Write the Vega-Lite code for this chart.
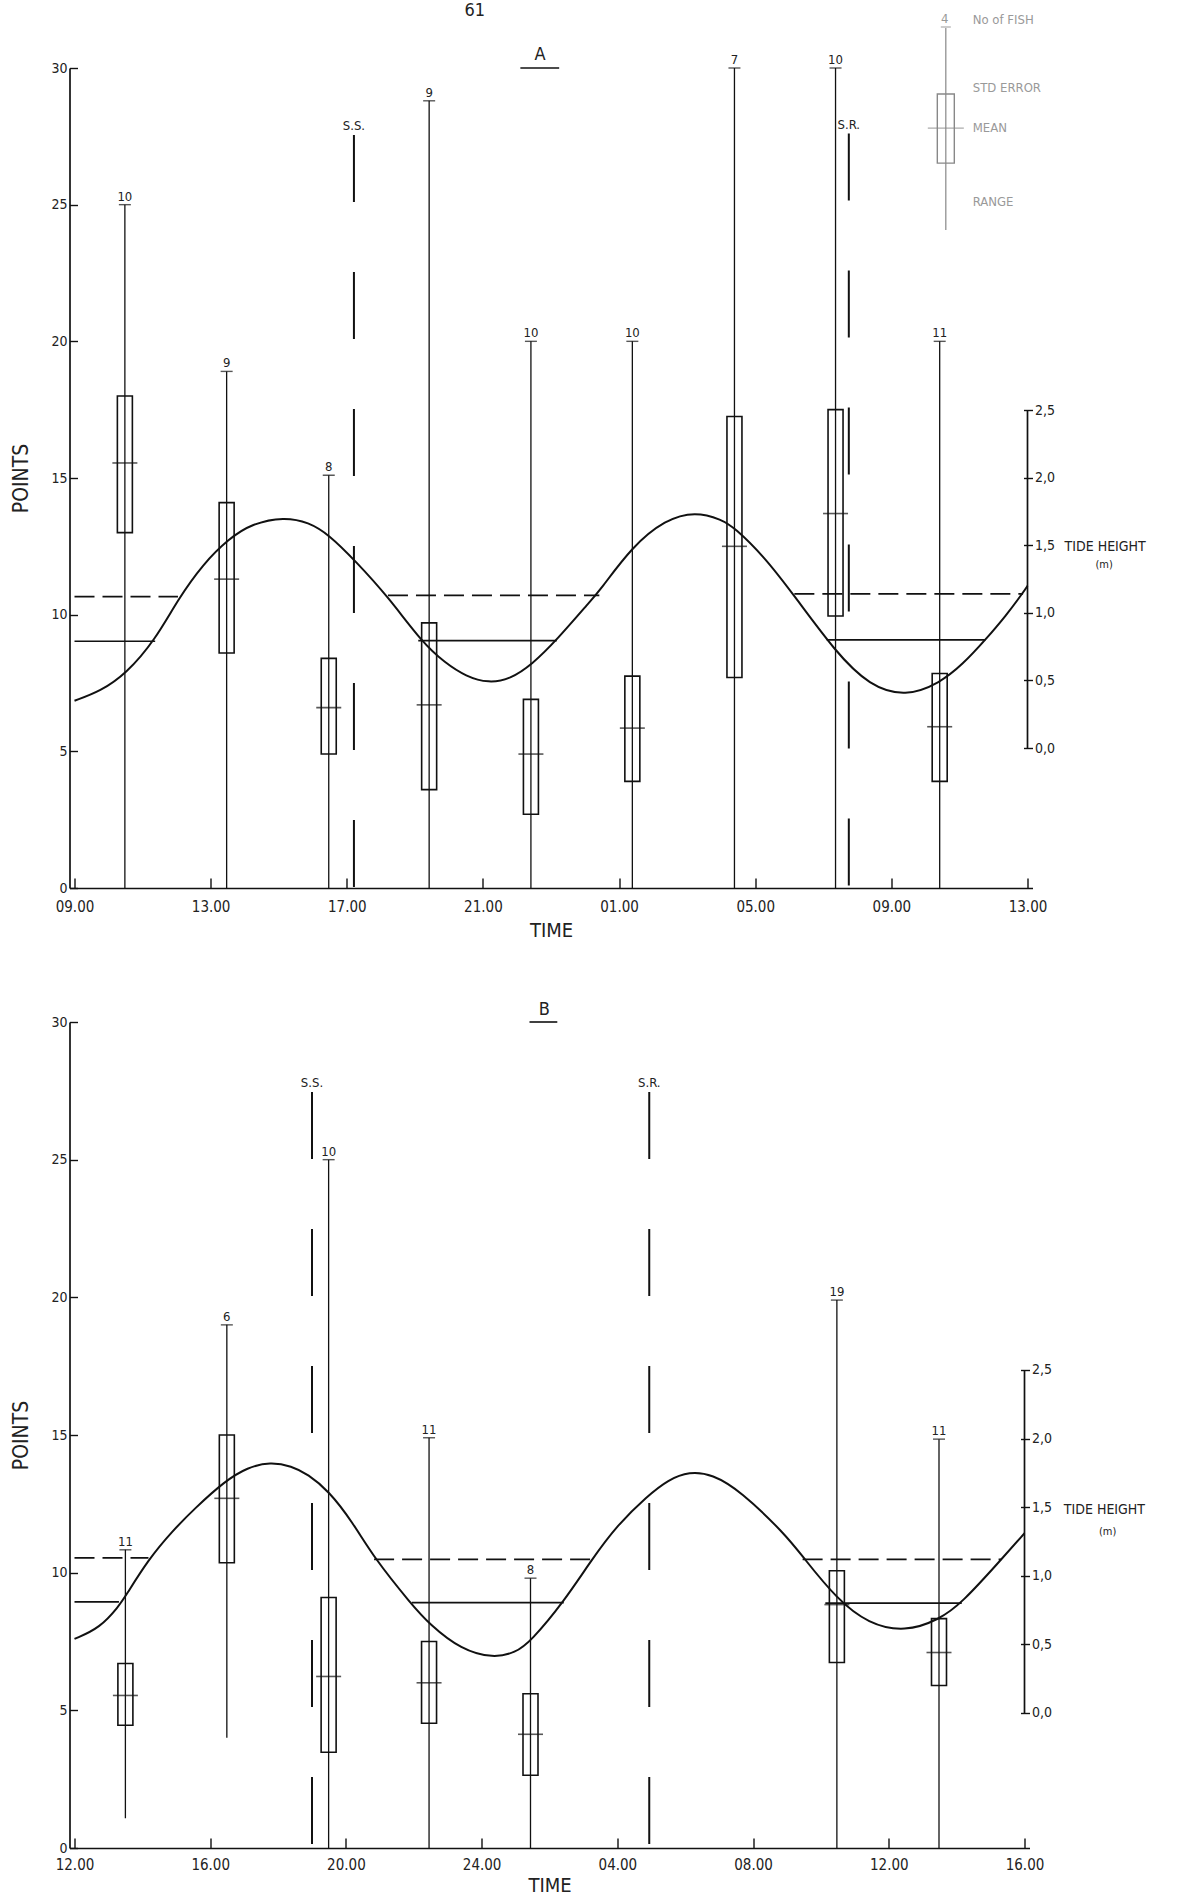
{
  "$schema": "https://vega.github.io/schema/vega-lite/v6.json",
  "autosize": {"type": "none"},
  "padding": {"left": 69.5, "top": 68, "right": 1120, "bottom": 1828},
  "background": "white",
  "bounds": "flush",
  "spacing": 134,
  "datasets": {
    "boxesA": [
      {"t": 10.48, "min": 0, "max": 25.0, "lo": 13.0, "hi": 18.0, "mean": 15.55, "n": 10},
      {"t": 13.47, "min": 0, "max": 18.9, "lo": 8.6, "hi": 14.1, "mean": 11.3, "n": 9},
      {"t": 16.47, "min": 0, "max": 15.1, "lo": 4.9, "hi": 8.4, "mean": 6.6, "n": 8},
      {"t": 19.42, "min": 0, "max": 28.8, "lo": 3.6, "hi": 9.7, "mean": 6.7, "n": 9},
      {"t": 22.41, "min": 0, "max": 20.0, "lo": 2.7, "hi": 6.9, "mean": 4.9, "n": 10},
      {"t": 25.39, "min": 0, "max": 20.0, "lo": 3.9, "hi": 7.75, "mean": 5.85, "n": 10},
      {"t": 28.39, "min": 0, "max": 30.0, "lo": 7.7, "hi": 17.25, "mean": 12.5, "n": 7},
      {"t": 31.36, "min": 0, "max": 30.0, "lo": 9.95, "hi": 17.5, "mean": 13.7, "n": 10},
      {"t": 34.42, "min": 0, "max": 20.0, "lo": 3.9, "hi": 7.85, "mean": 5.9, "n": 11}
    ],
    "boxesB": [
      {"t": 13.5, "min": 1.08, "max": 10.83, "lo": 4.46, "hi": 6.7, "mean": 5.54, "n": 11},
      {"t": 16.49, "min": 4.0, "max": 19.0, "lo": 10.36, "hi": 15.0, "mean": 12.7, "n": 6},
      {"t": 19.49, "min": 0, "max": 25.0, "lo": 3.48, "hi": 9.1, "mean": 6.23, "n": 10},
      {"t": 22.45, "min": 0, "max": 14.9, "lo": 4.53, "hi": 7.5, "mean": 6.0, "n": 11},
      {"t": 25.44, "min": 0, "max": 9.8, "lo": 2.64, "hi": 5.6, "mean": 4.13, "n": 8},
      {"t": 34.47, "min": 0, "max": 19.9, "lo": 6.74, "hi": 10.07, "mean": 8.84, "n": 19},
      {"t": 37.48, "min": 0, "max": 14.85, "lo": 5.9, "hi": 8.33, "mean": 7.1, "n": 11}
    ],
    "sunA": [
      {"t": 17.21, "top": 27.55, "label": "S.S."},
      {"t": 31.75, "top": 27.6, "label": "S.R."}
    ],
    "sunB": [
      {"t": 19.0, "top": 27.46, "label": "S.S."},
      {"t": 28.94, "top": 27.46, "label": "S.R."}
    ],
    "tideA": [
      {"t": 9.0, "h": 0.35}, {"t": 9.76, "h": 0.42}, {"t": 10.52, "h": 0.55},
      {"t": 11.37, "h": 0.8}, {"t": 12.04, "h": 1.1}, {"t": 12.77, "h": 1.36},
      {"t": 13.54, "h": 1.55}, {"t": 14.21, "h": 1.66}, {"t": 15.16, "h": 1.71},
      {"t": 15.88, "h": 1.67}, {"t": 16.47, "h": 1.58}, {"t": 17.27, "h": 1.38},
      {"t": 18.21, "h": 1.12}, {"t": 19.22, "h": 0.78}, {"t": 19.89, "h": 0.63},
      {"t": 20.5, "h": 0.53}, {"t": 21.17, "h": 0.48}, {"t": 21.8, "h": 0.51},
      {"t": 22.45, "h": 0.62}, {"t": 23.17, "h": 0.8}, {"t": 24.13, "h": 1.08},
      {"t": 24.42, "h": 1.16}, {"t": 25.38, "h": 1.49}, {"t": 26.36, "h": 1.69},
      {"t": 27.24, "h": 1.75}, {"t": 28.02, "h": 1.69}, {"t": 28.39, "h": 1.63},
      {"t": 29.25, "h": 1.42}, {"t": 30.14, "h": 1.13}, {"t": 31.36, "h": 0.71},
      {"t": 32.36, "h": 0.46}, {"t": 33.42, "h": 0.38}, {"t": 34.42, "h": 0.48},
      {"t": 35.1, "h": 0.62}, {"t": 35.76, "h": 0.8}, {"t": 36.37, "h": 0.98},
      {"t": 36.87, "h": 1.15}, {"t": 37.0, "h": 1.2}
    ],
    "tideB": [
      {"t": 12.0, "h": 0.54}, {"t": 12.75, "h": 0.62}, {"t": 13.31, "h": 0.78},
      {"t": 13.5, "h": 0.85}, {"t": 14.18, "h": 1.12}, {"t": 14.9, "h": 1.33},
      {"t": 15.54, "h": 1.49}, {"t": 16.43, "h": 1.69}, {"t": 17.1, "h": 1.79},
      {"t": 17.77, "h": 1.83}, {"t": 18.4, "h": 1.8}, {"t": 18.88, "h": 1.74},
      {"t": 19.49, "h": 1.62}, {"t": 20.2, "h": 1.39}, {"t": 20.83, "h": 1.13},
      {"t": 21.94, "h": 0.79}, {"t": 22.45, "h": 0.65}, {"t": 23.4, "h": 0.46},
      {"t": 24.35, "h": 0.4}, {"t": 25.0, "h": 0.44}, {"t": 25.44, "h": 0.52},
      {"t": 26.42, "h": 0.81}, {"t": 27.25, "h": 1.12}, {"t": 28.0, "h": 1.37},
      {"t": 28.88, "h": 1.58}, {"t": 29.5, "h": 1.7}, {"t": 30.12, "h": 1.76},
      {"t": 30.8, "h": 1.74}, {"t": 31.62, "h": 1.62}, {"t": 32.96, "h": 1.3},
      {"t": 33.46, "h": 1.14}, {"t": 34.47, "h": 0.83}, {"t": 35.4, "h": 0.65},
      {"t": 36.48, "h": 0.59}, {"t": 37.48, "h": 0.68}, {"t": 38.15, "h": 0.8},
      {"t": 39.32, "h": 1.12}, {"t": 40.0, "h": 1.31}
    ],
    "levelsA": [
      {"t": 9.0, "t2": 12.04, "h": 1.12, "style": "dashed"},
      {"t": 18.21, "t2": 24.42, "h": 1.13, "style": "dashed"},
      {"t": 30.15, "t2": 36.87, "h": 1.14, "style": "dashed"},
      {"t": 9.0, "t2": 11.37, "h": 0.79, "style": "solid"},
      {"t": 19.1, "t2": 23.17, "h": 0.795, "style": "solid"},
      {"t": 31.1, "t2": 35.76, "h": 0.80, "style": "solid"}
    ],
    "levelsB": [
      {"t": 12.0, "t2": 14.18, "h": 1.13, "style": "dashed"},
      {"t": 20.83, "t2": 27.31, "h": 1.12, "style": "dashed"},
      {"t": 33.46, "t2": 39.32, "h": 1.12, "style": "dashed"},
      {"t": 12.0, "t2": 13.31, "h": 0.81, "style": "solid"},
      {"t": 21.94, "t2": 26.42, "h": 0.805, "style": "solid"},
      {"t": 34.13, "t2": 38.15, "h": 0.80, "style": "solid"}
    ]
  },
  "config": {
    "view": {"stroke": null},
    "font": "DejaVu Sans Condensed",
    "axis": {
      "grid": false, "domainColor": "#111", "domainWidth": 1.7, "tickColor": "#111", "tickWidth": 1.4,
      "labelColor": "#222", "titleColor": "#222", "labelFont": "DejaVu Sans Condensed", "titleFont": "DejaVu Sans Condensed",
      "titleFontWeight": "normal", "labelFlush": false, "labelOverlap": false, "labelBound": false
    },
    "text": {"font": "DejaVu Sans Condensed", "color": "#222"}
  },
  "vconcat": [
    {
      "width": 963,
      "height": 820,
      "resolve": {"scale": {"y": "independent"}},
      "layer": [
        {
          "layer": [
            {
              "data": {"name": "boxesA"},
              "mark": {"type": "rule", "strokeWidth": 1.3, "color": "#111"},
              "encoding": {
                "x": {"field": "t", "type": "quantitative", "scale": {"domain": [9, 37], "nice": false, "zero": false},
                  "axis": {"values": [9, 13, 17, 21, 25, 29, 33, 37], "labelExpr": "(datum.value > 24 ? ((datum.value - 24) < 10 ? '0' : '') + (datum.value - 24) : (datum.value < 10 ? '0' : '') + datum.value) + '.00'",
                    "title": "TIME", "tickSize": -10, "labelPadding": 21, "labelFontSize": 15, "titleFontSize": 20, "titlePadding": 6}},
                "y": {"field": "min", "type": "quantitative", "scale": {"domain": [0, 30], "nice": false, "zero": false},
                  "axis": {"values": [0, 5, 10, 15, 20, 25, 30], "title": "POINTS", "tickSize": -8, "labelPadding": 10.5, "labelFontSize": 14,
                    "titleFontSize": 21, "titleX": -48, "titleY": 410, "titleAngle": -90, "titleBaseline": "middle", "titleAlign": "center"}},
                "y2": {"field": "max"}
              }
            },
            {
              "data": {"name": "boxesA"},
              "mark": {"type": "bar", "width": 15, "fill": "transparent", "stroke": "#111", "strokeWidth": 1.6},
              "encoding": {
                "x": {"field": "t", "type": "quantitative", "scale": {"domain": [9, 37], "nice": false, "zero": false}},
                "y": {"field": "lo", "type": "quantitative", "scale": {"domain": [0, 30], "nice": false, "zero": false}},
                "y2": {"field": "hi"}
              }
            },
            {
              "data": {"name": "boxesA"},
              "mark": {"type": "tick", "orient": "horizontal", "size": 25, "thickness": 1.6, "color": "#111"},
              "encoding": {
                "x": {"field": "t", "type": "quantitative", "scale": {"domain": [9, 37], "nice": false, "zero": false}},
                "y": {"field": "mean", "type": "quantitative", "scale": {"domain": [0, 30], "nice": false, "zero": false}}
              }
            },
            {
              "data": {"name": "boxesA"},
              "mark": {"type": "tick", "orient": "horizontal", "size": 12, "thickness": 1.4, "color": "#111"},
              "encoding": {
                "x": {"field": "t", "type": "quantitative", "scale": {"domain": [9, 37], "nice": false, "zero": false}},
                "y": {"field": "max", "type": "quantitative", "scale": {"domain": [0, 30], "nice": false, "zero": false}}
              }
            },
            {
              "data": {"name": "boxesA"},
              "mark": {"type": "text", "baseline": "bottom", "dy": -1, "fontSize": 13},
              "encoding": {
                "x": {"field": "t", "type": "quantitative", "scale": {"domain": [9, 37], "nice": false, "zero": false}},
                "y": {"field": "max", "type": "quantitative", "scale": {"domain": [0, 30], "nice": false, "zero": false}},
                "text": {"field": "n"}
              }
            },
            {
              "data": {"name": "sunA"},
              "mark": {"type": "rule", "strokeWidth": 2, "color": "#111", "strokeDash": [67, 70]},
              "encoding": {
                "x": {"field": "t", "type": "quantitative", "scale": {"domain": [9, 37], "nice": false, "zero": false}},
                "y": {"field": "top", "type": "quantitative", "scale": {"domain": [0, 30], "nice": false, "zero": false}},
                "y2": {"datum": 0}
              }
            },
            {
              "data": {"name": "sunA"},
              "mark": {"type": "text", "baseline": "bottom", "dy": -2, "fontSize": 13},
              "encoding": {
                "x": {"field": "t", "type": "quantitative", "scale": {"domain": [9, 37], "nice": false, "zero": false}},
                "y": {"field": "top", "type": "quantitative", "scale": {"domain": [0, 30], "nice": false, "zero": false}},
                "text": {"field": "label"}
              }
            },
            {
              "data": {"values": [{"t": 22.68, "p": 30.48, "label": "A"}, {"t": 20.76, "p": 32.1, "label": "61"}]},
              "mark": {"type": "text", "baseline": "middle", "fontSize": 18},
              "encoding": {
                "x": {"field": "t", "type": "quantitative", "scale": {"domain": [9, 37], "nice": false, "zero": false}},
                "y": {"field": "p", "type": "quantitative", "scale": {"domain": [0, 30], "nice": false, "zero": false}},
                "text": {"field": "label"}
              }
            },
            {
              "data": {"values": [{"t": 22.1, "t2": 23.24, "p": 30}]},
              "mark": {"type": "rule", "strokeWidth": 1.6, "color": "#111"},
              "encoding": {
                "x": {"field": "t", "type": "quantitative", "scale": {"domain": [9, 37], "nice": false, "zero": false}},
                "x2": {"field": "t2"},
                "y": {"field": "p", "type": "quantitative", "scale": {"domain": [0, 30], "nice": false, "zero": false}}
              }
            },
            {
              "data": {"values": [{"t": 34.6, "top": 31.46, "bottom": 24.07}]},
              "mark": {"type": "rule", "strokeWidth": 1.2, "color": "#888"},
              "encoding": {
                "x": {"field": "t", "type": "quantitative", "scale": {"domain": [9, 37], "nice": false, "zero": false}},
                "y": {"field": "top", "type": "quantitative", "scale": {"domain": [0, 30], "nice": false, "zero": false}},
                "y2": {"field": "bottom"}
              }
            },
            {
              "data": {"values": [{"t": 34.6, "lo": 26.52, "hi": 29.05}]},
              "mark": {"type": "bar", "width": 17, "fill": "transparent", "stroke": "#888", "strokeWidth": 1.4},
              "encoding": {
                "x": {"field": "t", "type": "quantitative", "scale": {"domain": [9, 37], "nice": false, "zero": false}},
                "y": {"field": "lo", "type": "quantitative", "scale": {"domain": [0, 30], "nice": false, "zero": false}},
                "y2": {"field": "hi"}
              }
            },
            {
              "data": {"values": [{"t": 34.6, "p": 27.8}]},
              "mark": {"type": "tick", "orient": "horizontal", "size": 36, "thickness": 1.3, "color": "#888"},
              "encoding": {
                "x": {"field": "t", "type": "quantitative", "scale": {"domain": [9, 37], "nice": false, "zero": false}},
                "y": {"field": "p", "type": "quantitative", "scale": {"domain": [0, 30], "nice": false, "zero": false}}
              }
            },
            {
              "data": {"values": [{"t": 34.6, "p": 31.5}]},
              "mark": {"type": "tick", "orient": "horizontal", "size": 10, "thickness": 1.2, "color": "#888"},
              "encoding": {
                "x": {"field": "t", "type": "quantitative", "scale": {"domain": [9, 37], "nice": false, "zero": false}},
                "y": {"field": "p", "type": "quantitative", "scale": {"domain": [0, 30], "nice": false, "zero": false}}
              }
            },
            {
              "data": {"values": [{"t": 34.57, "p": 31.5, "label": "4"}]},
              "mark": {"type": "text", "baseline": "bottom", "dy": -1, "fontSize": 13, "color": "#999"},
              "encoding": {
                "x": {"field": "t", "type": "quantitative", "scale": {"domain": [9, 37], "nice": false, "zero": false}},
                "y": {"field": "p", "type": "quantitative", "scale": {"domain": [0, 30], "nice": false, "zero": false}},
                "text": {"field": "label"}
              }
            },
            {
              "data": {"values": [
                {"t": 35.39, "p": 31.76, "label": "No of FISH"},
                {"t": 35.39, "p": 29.27, "label": "STD ERROR"},
                {"t": 35.39, "p": 27.8, "label": "MEAN"},
                {"t": 35.39, "p": 25.1, "label": "RANGE"}
              ]},
              "mark": {"type": "text", "align": "left", "baseline": "middle", "fontSize": 13, "color": "#999"},
              "encoding": {
                "x": {"field": "t", "type": "quantitative", "scale": {"domain": [9, 37], "nice": false, "zero": false}},
                "y": {"field": "p", "type": "quantitative", "scale": {"domain": [0, 30], "nice": false, "zero": false}},
                "text": {"field": "label"}
              }
            }
          ]
        },
        {
          "layer": [
            {
              "data": {"name": "tideA"},
              "mark": {"type": "line", "interpolate": "basis", "strokeWidth": 2, "color": "#111"},
              "encoding": {
                "x": {"field": "t", "type": "quantitative", "scale": {"domain": [9, 37], "nice": false, "zero": false}},
                "y": {"field": "h", "type": "quantitative", "scale": {"domain": [-1.035, 5.03], "nice": false, "zero": false},
                  "axis": {"orient": "right", "values": [0, 0.5, 1, 1.5, 2, 2.5], "labelExpr": "replace(format(datum.value, '.1f'), '.', ',')",
                    "domain": false, "tickSize": -9, "labelPadding": 11, "labelFontSize": 14, "title": null}}
              }
            },
            {
              "data": {"name": "levelsA"},
              "mark": {"type": "rule", "strokeWidth": 1.7, "color": "#111"},
              "encoding": {
                "x": {"field": "t", "type": "quantitative", "scale": {"domain": [9, 37], "nice": false, "zero": false}},
                "x2": {"field": "t2"},
                "y": {"field": "h", "type": "quantitative", "scale": {"domain": [-1.035, 5.03], "nice": false, "zero": false}},
                "strokeDash": {"field": "style", "type": "nominal", "scale": {"domain": ["dashed", "solid"], "range": [[20, 8], [1, 0]]}, "legend": null}
              }
            },
            {
              "data": {"values": [{"t": 37, "h": 0, "h2": 2.5}]},
              "mark": {"type": "rule", "strokeWidth": 1.7, "color": "#111"},
              "encoding": {
                "x": {"field": "t", "type": "quantitative", "scale": {"domain": [9, 37], "nice": false, "zero": false}},
                "y": {"field": "h", "type": "quantitative", "scale": {"domain": [-1.035, 5.03], "nice": false, "zero": false}},
                "y2": {"field": "h2"}
              }
            },
            {
              "data": {"values": [{"t": 38.09, "h": 1.487, "label": "TIDE  HEIGHT"}]},
              "mark": {"type": "text", "align": "left", "baseline": "middle", "fontSize": 14},
              "encoding": {
                "x": {"field": "t", "type": "quantitative", "scale": {"domain": [9, 37], "nice": false, "zero": false}},
                "y": {"field": "h", "type": "quantitative", "scale": {"domain": [-1.035, 5.03], "nice": false, "zero": false}},
                "text": {"field": "label"}
              }
            },
            {
              "data": {"values": [{"t": 39.25, "h": 1.354, "label": "(m)"}]},
              "mark": {"type": "text", "align": "center", "baseline": "middle", "fontSize": 11},
              "encoding": {
                "x": {"field": "t", "type": "quantitative", "scale": {"domain": [9, 37], "nice": false, "zero": false}},
                "y": {"field": "h", "type": "quantitative", "scale": {"domain": [-1.035, 5.03], "nice": false, "zero": false}},
                "text": {"field": "label"}
              }
            }
          ]
        }
      ]
    },
    {
      "width": 960,
      "height": 826,
      "resolve": {"scale": {"y": "independent"}},
      "layer": [
        {
          "layer": [
            {
              "data": {"name": "boxesB"},
              "mark": {"type": "rule", "strokeWidth": 1.3, "color": "#111"},
              "encoding": {
                "x": {"field": "t", "type": "quantitative", "scale": {"domain": [12, 40], "nice": false, "zero": false},
                  "axis": {"values": [12, 16, 20, 24, 28, 32, 36, 40], "labelExpr": "(datum.value > 24 ? ((datum.value - 24) < 10 ? '0' : '') + (datum.value - 24) : (datum.value < 10 ? '0' : '') + datum.value) + '.00'",
                    "title": "TIME", "tickSize": -10, "labelPadding": 19, "labelFontSize": 15, "titleFontSize": 20, "titlePadding": 3}},
                "y": {"field": "min", "type": "quantitative", "scale": {"domain": [0, 30], "nice": false, "zero": false},
                  "axis": {"values": [0, 5, 10, 15, 20, 25, 30], "title": "POINTS", "tickSize": -8, "labelPadding": 10.5, "labelFontSize": 14,
                    "titleFontSize": 21, "titleX": -48, "titleY": 413, "titleAngle": -90, "titleBaseline": "middle", "titleAlign": "center"}},
                "y2": {"field": "max"}
              }
            },
            {
              "data": {"name": "boxesB"},
              "mark": {"type": "bar", "width": 15, "fill": "transparent", "stroke": "#111", "strokeWidth": 1.6},
              "encoding": {
                "x": {"field": "t", "type": "quantitative", "scale": {"domain": [12, 40], "nice": false, "zero": false}},
                "y": {"field": "lo", "type": "quantitative", "scale": {"domain": [0, 30], "nice": false, "zero": false}},
                "y2": {"field": "hi"}
              }
            },
            {
              "data": {"name": "boxesB"},
              "mark": {"type": "tick", "orient": "horizontal", "size": 25, "thickness": 1.6, "color": "#111"},
              "encoding": {
                "x": {"field": "t", "type": "quantitative", "scale": {"domain": [12, 40], "nice": false, "zero": false}},
                "y": {"field": "mean", "type": "quantitative", "scale": {"domain": [0, 30], "nice": false, "zero": false}}
              }
            },
            {
              "data": {"name": "boxesB"},
              "mark": {"type": "tick", "orient": "horizontal", "size": 12, "thickness": 1.4, "color": "#111"},
              "encoding": {
                "x": {"field": "t", "type": "quantitative", "scale": {"domain": [12, 40], "nice": false, "zero": false}},
                "y": {"field": "max", "type": "quantitative", "scale": {"domain": [0, 30], "nice": false, "zero": false}}
              }
            },
            {
              "data": {"name": "boxesB"},
              "mark": {"type": "text", "baseline": "bottom", "dy": -1, "fontSize": 13},
              "encoding": {
                "x": {"field": "t", "type": "quantitative", "scale": {"domain": [12, 40], "nice": false, "zero": false}},
                "y": {"field": "max", "type": "quantitative", "scale": {"domain": [0, 30], "nice": false, "zero": false}},
                "text": {"field": "n"}
              }
            },
            {
              "data": {"name": "sunB"},
              "mark": {"type": "rule", "strokeWidth": 2, "color": "#111", "strokeDash": [67, 70]},
              "encoding": {
                "x": {"field": "t", "type": "quantitative", "scale": {"domain": [12, 40], "nice": false, "zero": false}},
                "y": {"field": "top", "type": "quantitative", "scale": {"domain": [0, 30], "nice": false, "zero": false}},
                "y2": {"datum": 0}
              }
            },
            {
              "data": {"name": "sunB"},
              "mark": {"type": "text", "baseline": "bottom", "dy": -2, "fontSize": 13},
              "encoding": {
                "x": {"field": "t", "type": "quantitative", "scale": {"domain": [12, 40], "nice": false, "zero": false}},
                "y": {"field": "top", "type": "quantitative", "scale": {"domain": [0, 30], "nice": false, "zero": false}},
                "text": {"field": "label"}
              }
            },
            {
              "data": {"values": [{"t": 25.85, "p": 30.44, "label": "B"}]},
              "mark": {"type": "text", "baseline": "middle", "fontSize": 18},
              "encoding": {
                "x": {"field": "t", "type": "quantitative", "scale": {"domain": [12, 40], "nice": false, "zero": false}},
                "y": {"field": "p", "type": "quantitative", "scale": {"domain": [0, 30], "nice": false, "zero": false}},
                "text": {"field": "label"}
              }
            },
            {
              "data": {"values": [{"t": 25.41, "t2": 26.23, "p": 30}]},
              "mark": {"type": "rule", "strokeWidth": 1.6, "color": "#111"},
              "encoding": {
                "x": {"field": "t", "type": "quantitative", "scale": {"domain": [12, 40], "nice": false, "zero": false}},
                "x2": {"field": "t2"},
                "y": {"field": "p", "type": "quantitative", "scale": {"domain": [0, 30], "nice": false, "zero": false}}
              }
            }
          ]
        },
        {
          "layer": [
            {
              "data": {"name": "tideB"},
              "mark": {"type": "line", "interpolate": "basis", "strokeWidth": 2, "color": "#111"},
              "encoding": {
                "x": {"field": "t", "type": "quantitative", "scale": {"domain": [12, 40], "nice": false, "zero": false}},
                "y": {"field": "h", "type": "quantitative", "scale": {"domain": [-0.984, 5.036], "nice": false, "zero": false},
                  "axis": {"orient": "right", "values": [0, 0.5, 1, 1.5, 2, 2.5], "labelExpr": "replace(format(datum.value, '.1f'), '.', ',')",
                    "domain": false, "tickSize": -9, "labelPadding": 11, "labelFontSize": 14, "title": null}}
              }
            },
            {
              "data": {"name": "levelsB"},
              "mark": {"type": "rule", "strokeWidth": 1.7, "color": "#111"},
              "encoding": {
                "x": {"field": "t", "type": "quantitative", "scale": {"domain": [12, 40], "nice": false, "zero": false}},
                "x2": {"field": "t2"},
                "y": {"field": "h", "type": "quantitative", "scale": {"domain": [-0.984, 5.036], "nice": false, "zero": false}},
                "strokeDash": {"field": "style", "type": "nominal", "scale": {"domain": ["dashed", "solid"], "range": [[20, 8], [1, 0]]}, "legend": null}
              }
            },
            {
              "data": {"values": [{"t": 40, "h": 0, "h2": 2.5}]},
              "mark": {"type": "rule", "strokeWidth": 1.7, "color": "#111"},
              "encoding": {
                "x": {"field": "t", "type": "quantitative", "scale": {"domain": [12, 40], "nice": false, "zero": false}},
                "y": {"field": "h", "type": "quantitative", "scale": {"domain": [-0.984, 5.036], "nice": false, "zero": false}},
                "y2": {"field": "h2"}
              }
            },
            {
              "data": {"values": [{"t": 41.16, "h": 1.48, "label": "TIDE  HEIGHT"}]},
              "mark": {"type": "text", "align": "left", "baseline": "middle", "fontSize": 14},
              "encoding": {
                "x": {"field": "t", "type": "quantitative", "scale": {"domain": [12, 40], "nice": false, "zero": false}},
                "y": {"field": "h", "type": "quantitative", "scale": {"domain": [-0.984, 5.036], "nice": false, "zero": false}},
                "text": {"field": "label"}
              }
            },
            {
              "data": {"values": [{"t": 42.45, "h": 1.32, "label": "(m)"}]},
              "mark": {"type": "text", "align": "center", "baseline": "middle", "fontSize": 11},
              "encoding": {
                "x": {"field": "t", "type": "quantitative", "scale": {"domain": [12, 40], "nice": false, "zero": false}},
                "y": {"field": "h", "type": "quantitative", "scale": {"domain": [-0.984, 5.036], "nice": false, "zero": false}},
                "text": {"field": "label"}
              }
            }
          ]
        }
      ]
    }
  ]
}
